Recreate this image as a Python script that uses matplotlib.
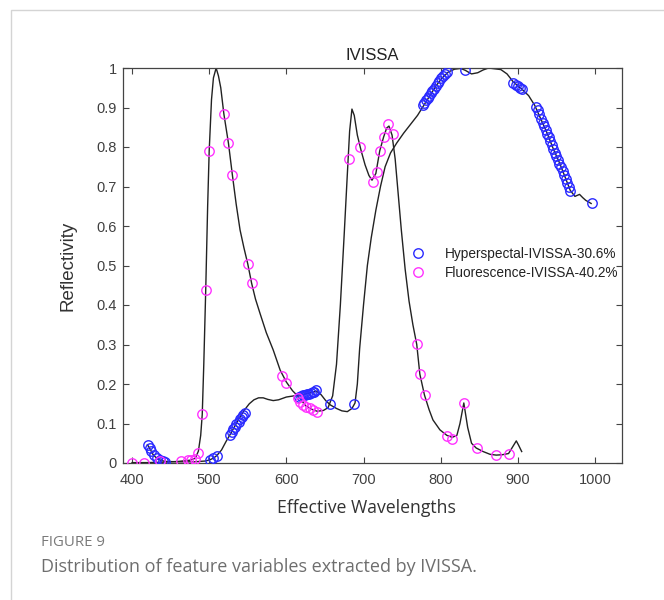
import matplotlib
matplotlib.use("Agg")
import matplotlib.pyplot as plt
from matplotlib.patches import Rectangle

# hyperspectral mean spectrum (black line)
hs_wl = [420, 423, 427, 432, 437, 443, 460, 480, 495, 501, 506, 510, 516, 522,
         528, 534, 540, 546, 552, 558, 564, 570, 576, 583, 590, 600, 610, 620,
         630, 639, 645, 651, 657, 665, 672, 679, 685, 689, 692, 695, 700, 705,
         710, 716, 722, 728, 735, 743, 752, 760, 770, 778, 786, 794, 802, 810,
         818, 826, 832, 840, 848, 855, 862, 870, 878, 886, 894, 900, 906, 914,
         922, 930, 938, 946, 954, 962, 968, 974, 980, 984, 988, 995]
hs_ref = [0.046, 0.037, 0.022, 0.012, 0.007, 0.004, 0.003, 0.003, 0.005, 0.008,
          0.013, 0.019, 0.033, 0.055, 0.075, 0.096, 0.117, 0.135, 0.150, 0.160,
          0.165, 0.165, 0.161, 0.158, 0.160, 0.167, 0.170, 0.173, 0.177, 0.182,
          0.173, 0.158, 0.147, 0.138, 0.132, 0.130, 0.138, 0.152, 0.200, 0.290,
          0.400, 0.500, 0.570, 0.640, 0.700, 0.750, 0.785, 0.810, 0.835, 0.855,
          0.880, 0.905, 0.930, 0.955, 0.975, 0.990, 0.997, 0.999, 0.994, 0.985,
          0.988, 0.995, 1.000, 0.998, 0.996, 0.985, 0.965, 0.955, 0.945, 0.930,
          0.905, 0.870, 0.835, 0.795, 0.760, 0.720, 0.690, 0.675, 0.680, 0.672,
          0.665, 0.657]

# fluorescence mean spectrum (black line)
fl_wl = [400, 420, 440, 460, 475, 482, 486, 489, 491, 493, 495.5, 498, 500, 503,
         505.5, 509, 512, 515, 519, 525, 530, 535, 540, 545, 550, 555, 560, 566,
         574, 583, 592, 600, 608, 617, 625, 633, 640, 648, 654, 660, 665, 670,
         675, 679, 682, 685, 688, 692, 697, 702, 707, 711, 716, 721, 726, 730,
         733, 737, 741, 745, 749, 754, 759, 764, 769, 773, 779, 785, 790, 799,
         808, 815, 821, 825, 830, 835, 840, 846, 855, 864, 872, 880, 888, 893,
         898, 901, 905]
fl_ref = [0.001, 0.001, 0.002, 0.004, 0.007, 0.012, 0.030, 0.070, 0.123, 0.250,
          0.437, 0.650, 0.790, 0.920, 0.975, 1.000, 0.980, 0.950, 0.884, 0.809,
          0.730, 0.655, 0.590, 0.545, 0.504, 0.455, 0.415, 0.378, 0.330, 0.286,
          0.235, 0.205, 0.183, 0.165, 0.145, 0.136, 0.131, 0.133, 0.140, 0.170,
          0.250, 0.400, 0.580, 0.730, 0.840, 0.896, 0.880, 0.830, 0.790, 0.755,
          0.728, 0.716, 0.733, 0.790, 0.825, 0.848, 0.853, 0.830, 0.770, 0.680,
          0.590, 0.490, 0.410, 0.350, 0.300, 0.225, 0.172, 0.135, 0.109, 0.084,
          0.070, 0.065, 0.070, 0.100, 0.152, 0.090, 0.050, 0.038, 0.029, 0.022,
          0.020, 0.021, 0.024, 0.040, 0.056, 0.045, 0.029]

# variables selected by IVISSA
hs_sel_wl = [421, 423, 425, 428, 432, 436, 440, 443,
             501, 505, 510,
             527, 529, 531, 533, 535, 538, 540, 542, 544, 546,
             617, 619, 622, 624, 627, 629, 632, 634, 636, 638,
             657, 688,
             777, 779, 781, 783, 785, 787, 789, 791, 794, 796, 798, 801, 803, 806, 808,
             832,
             894, 897, 900, 903, 905,
             924, 926, 928, 930, 932, 934, 936, 938, 940, 942, 944, 946, 948, 950,
             952, 954, 956, 958, 960, 962, 964, 966, 968,
             996]
hs_sel_ref = [0.046, 0.038, 0.030, 0.021, 0.013, 0.008, 0.004, 0.002,
              0.008, 0.012, 0.018,
              0.071, 0.078, 0.085, 0.092, 0.098, 0.105, 0.111, 0.117, 0.121, 0.126,
              0.168, 0.170, 0.171, 0.172, 0.174, 0.175, 0.177, 0.179, 0.181, 0.184,
              0.149, 0.149,
              0.906, 0.912, 0.918, 0.924, 0.930, 0.936, 0.942, 0.948, 0.955, 0.961,
              0.967, 0.974, 0.980, 0.986, 0.990,
              0.995,
              0.963, 0.958, 0.954, 0.950, 0.946,
              0.902, 0.894, 0.884, 0.872, 0.862, 0.852, 0.843, 0.834, 0.825, 0.815,
              0.804, 0.795, 0.786, 0.777, 0.768, 0.758, 0.749, 0.740, 0.730, 0.720,
              0.710, 0.699, 0.688,
              0.657]

fl_sel_wl = [400, 415, 436, 464, 472, 477, 481, 485, 491, 495.5, 500, 519, 525,
             530, 550, 555, 594, 599.5, 615, 618, 622, 626, 631, 635, 640, 681,
             696, 712, 717, 721, 726.5, 732, 738, 769, 773, 779.5, 808, 815, 830,
             846.5, 872, 888]
fl_sel_ref = [0.001, 0.001, 0.005, 0.006, 0.007, 0.008, 0.009, 0.025, 0.123,
              0.437, 0.790, 0.884, 0.809, 0.730, 0.504, 0.455, 0.219, 0.202,
              0.164, 0.155, 0.147, 0.143, 0.138, 0.134, 0.130, 0.769, 0.801,
              0.712, 0.737, 0.791, 0.826, 0.857, 0.833, 0.302, 0.225, 0.172,
              0.069, 0.062, 0.153, 0.039, 0.020, 0.024]

x_ticks = [400, 500, 600, 700, 800, 900, 1000]
y_ticks = [0, 0.1, 0.2, 0.3, 0.4, 0.5, 0.6, 0.7, 0.8, 0.9, 1]
y_labels = ["0", "0.1", "0.2", "0.3", "0.4", "0.5", "0.6", "0.7", "0.8", "0.9", "1"]

plt.rcParams["font.family"] = ["Liberation Sans", "DejaVu Sans"]
axis_col = "#444444"

fig = plt.figure(figsize=(6.64, 6.0), dpi=100)
fig.patches.append(Rectangle((11 / 664, -0.1), 1.2, 1 - 10 / 600 + 0.1,
                             transform=fig.transFigure, fill=False,
                             edgecolor="#d4d4d4", linewidth=1.0))

ax = fig.add_axes([123 / 664, 1 - 463 / 600, 499 / 664, 395 / 600])
ax.plot(hs_wl, hs_ref, color="#222222", linewidth=1.0, zorder=2)
ax.plot(fl_wl, fl_ref, color="#222222", linewidth=1.0, zorder=2)
ax.plot(hs_sel_wl, hs_sel_ref, "o", markersize=6.8, markerfacecolor="none",
        markeredgecolor="#2a2aff", markeredgewidth=1.0,
        label="Hyperspectal-IVISSA-30.6%", zorder=3)
ax.plot(fl_sel_wl, fl_sel_ref, "o", markersize=6.8, markerfacecolor="none",
        markeredgecolor="#ff33ff", markeredgewidth=1.0,
        label="Fluorescence-IVISSA-40.2%", zorder=3)

ax.set_xlim(388.3, 1035)
ax.set_ylim(0, 1)
ax.set_xticks(x_ticks)
ax.set_yticks(y_ticks)
ax.set_yticklabels(y_labels)
ax.tick_params(direction="in", length=4, width=0.8, colors=axis_col,
               labelsize=10.5, top=True, right=True, labelcolor="#404040")
ax.tick_params(axis="x", pad=7.5)
ax.tick_params(axis="y", pad=4.5)
for sp in ax.spines.values():
    sp.set_color(axis_col)
    sp.set_linewidth(0.9)

ax.set_title("IVISSA", fontsize=12, color="#222222", pad=6)
ax.set_ylabel("Reflectivity", fontsize=13.5, color="#333333", labelpad=14)
ax.set_xlabel("Effective Wavelengths", fontsize=12.7, color="#333333",
              family=["Open Sans", "DejaVu Sans"], labelpad=7)
ax.xaxis.set_label_coords(0.488, -0.092)

ax.legend(loc="upper left", bbox_to_anchor=(0.5776, 0.547), frameon=False,
          fontsize=9.8, handletextpad=1.49, labelspacing=0.35, borderpad=0,
          borderaxespad=0, handlelength=1.0, labelcolor="#222222")

fig.text(41 / 664, 1 - 543 / 600, "FIGURE 9", fontsize=10.8, color="#7a7a7a",
         family=["Open Sans", "DejaVu Sans"], va="center", ha="left")
fig.text(41 / 664, 1 - 567 / 600, "Distribution of feature variables extracted by IVISSA.",
         fontsize=13, color="#6e6e6e", family=["Open Sans", "DejaVu Sans"],
         va="center", ha="left")

fig.savefig("out.png", dpi=100)
